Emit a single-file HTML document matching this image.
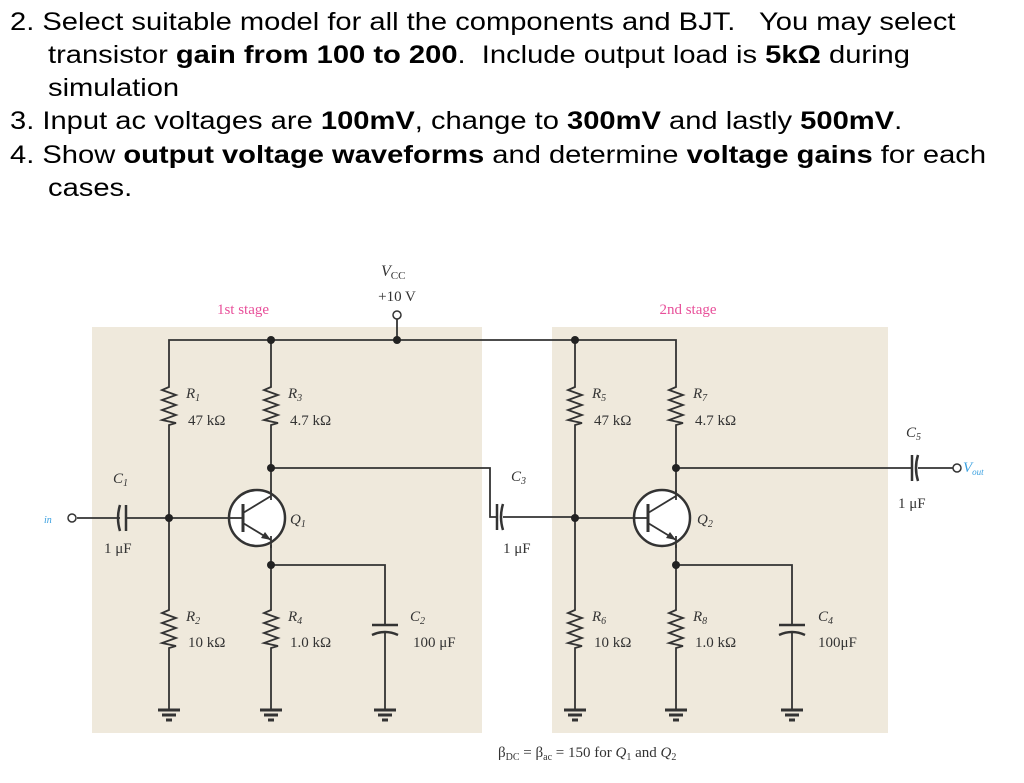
<!DOCTYPE html>
<html><head><meta charset="utf-8"><style>
html,body{margin:0;padding:0;background:#fff;width:1024px;height:783px;overflow:hidden}
.t{position:absolute;font-family:"Liberation Sans",Arial,sans-serif;font-size:25px;color:#000;white-space:nowrap;line-height:33px;transform:scaleX(1.165);transform-origin:0 0}
svg{position:absolute;left:0;top:0}
svg text{font-family:"Liberation Serif",serif;fill:#333}
</style></head><body>
<div class="t" style="left:10px;top:6px">2. Select suitable model for all the components and BJT.&nbsp;&nbsp; You may select</div>
<div class="t" style="left:48px;top:39px">transistor <b>gain from 100 to 200</b>.&nbsp; Include output load is <b>5kΩ</b> during</div>
<div class="t" style="left:48px;top:72px">simulation</div>
<div class="t" style="left:10px;top:105px">3. Input ac voltages are <b>100mV</b>, change to <b>300mV</b> and lastly <b>500mV</b>.</div>
<div class="t" style="left:10px;top:139px">4. Show <b>output voltage waveforms</b> and determine <b>voltage gains</b> for each</div>
<div class="t" style="left:48px;top:172px">cases.</div>
<svg width="1024" height="783" viewBox="0 0 1024 783">
<defs>
<g id="res"><polyline points="0,0 0,2 -7,5 7,10 -7,15 7,20 -7,25 7,30 -7,35 7,38 0,40 0,42" fill="none" stroke="#333" stroke-width="1.8"/></g>
<g id="gnd"><line x1="-11" y1="0" x2="11" y2="0" stroke="#333" stroke-width="3"/><line x1="-7" y1="5" x2="7" y2="5" stroke="#333" stroke-width="3"/><line x1="-3" y1="10" x2="3" y2="10" stroke="#333" stroke-width="3"/></g>
<g id="q"><circle cx="0" cy="0" r="28" fill="#fff" stroke="#333" stroke-width="2.5"/>
<line x1="-28" y1="0" x2="-14" y2="0" stroke="#333" stroke-width="1.8"/>
<line x1="-14" y1="-14" x2="-14" y2="14" stroke="#333" stroke-width="3"/>
<line x1="-14" y1="-5" x2="14" y2="-22" stroke="#333" stroke-width="1.8"/>
<line x1="-14" y1="5" x2="14" y2="22" stroke="#333" stroke-width="1.8"/>
<polygon points="14,22 4,20 8,14" fill="#333"/></g>
</defs>
<rect x="92" y="327" width="390" height="406" fill="#efe9dc"/>
<rect x="552" y="327" width="336" height="406" fill="#efe9dc"/>
<g stroke="#333" stroke-width="1.8" fill="none">
<polyline points="169,385 169,340 676,340 676,385"/>
<line x1="397" y1="319" x2="397" y2="340"/>
<line x1="271" y1="340" x2="271" y2="385"/>
<line x1="169" y1="427" x2="169" y2="608"/>
<line x1="169" y1="650" x2="169" y2="710"/>
<line x1="271" y1="427" x2="271" y2="495"/>
<line x1="271" y1="545" x2="271" y2="608"/>
<line x1="271" y1="650" x2="271" y2="710"/>
<polyline points="271,468 490,468 490,517 497,517"/>
<polyline points="503,517 575,517"/>
<polyline points="271,565 385,565 385,625"/>
<line x1="385" y1="632" x2="385" y2="710"/>
<line x1="77" y1="518" x2="120" y2="518"/>
<line x1="126" y1="518" x2="230" y2="518"/>
<line x1="575" y1="340" x2="575" y2="385"/>
<line x1="575" y1="427" x2="575" y2="608"/>
<line x1="575" y1="650" x2="575" y2="710"/>
<line x1="676" y1="427" x2="676" y2="495"/>
<line x1="676" y1="545" x2="676" y2="608"/>
<line x1="676" y1="650" x2="676" y2="710"/>
<polyline points="676,468 912,468"/>
<line x1="918" y1="468" x2="953" y2="468"/>
<polyline points="676,565 792,565 792,625"/>
<line x1="792" y1="632" x2="792" y2="710"/>
</g>
<use href="#res" x="169" y="385"/><use href="#res" x="271" y="385"/>
<use href="#res" x="169" y="608"/><use href="#res" x="271" y="608"/>
<use href="#res" x="575" y="385"/><use href="#res" x="676" y="385"/>
<use href="#res" x="575" y="608"/><use href="#res" x="676" y="608"/>
<use href="#gnd" x="169" y="710"/><use href="#gnd" x="271" y="710"/><use href="#gnd" x="385" y="710"/>
<use href="#gnd" x="575" y="710"/><use href="#gnd" x="676" y="710"/><use href="#gnd" x="792" y="710"/>
<use href="#q" x="257" y="518"/><use href="#q" x="662" y="518"/>
<g stroke="#333" stroke-width="1.8"><line x1="271" y1="490" x2="271" y2="500"/><line x1="271" y1="536" x2="271" y2="548"/>
<line x1="676" y1="490" x2="676" y2="500"/><line x1="676" y1="536" x2="676" y2="548"/>
<line x1="634" y1="518" x2="575" y2="518"/></g>
<g stroke="#333" stroke-width="2.5" fill="none">
<path d="M120,505 Q116,518 120,531"/><line x1="126" y1="505" x2="126" y2="531"/>
<line x1="497" y1="504" x2="497" y2="530"/><path d="M503,504 Q499,517 503,530"/>
<line x1="912" y1="455" x2="912" y2="481"/><path d="M918,455 Q914,468 918,481"/>
<line x1="372" y1="625" x2="398" y2="625"/><path d="M372,635 Q385,629 398,635"/>
<line x1="779" y1="625" x2="805" y2="625"/><path d="M779,635 Q792,629 805,635"/>
</g>
<g fill="#222"><circle cx="271" cy="340" r="4"/><circle cx="397" cy="340" r="4"/><circle cx="169" cy="518" r="4"/>
<circle cx="271" cy="468" r="4"/><circle cx="271" cy="565" r="4"/><circle cx="575" cy="340" r="4"/>
<circle cx="575" cy="518" r="4"/><circle cx="676" cy="468" r="4"/><circle cx="676" cy="565" r="4"/></g>
<g fill="#fff" stroke="#333" stroke-width="1.5"><circle cx="397" cy="315" r="4"/><circle cx="72" cy="518" r="4"/><circle cx="957" cy="468" r="4"/></g>
<text x="243" y="314" font-size="15" style="fill:#e8509a" text-anchor="middle">1st stage</text>
<text x="688" y="314" font-size="15" style="fill:#e8509a" text-anchor="middle">2nd stage</text>
<text x="381" y="276" font-size="16" font-style="italic">V<tspan font-size="11" font-style="normal" dy="3">CC</tspan></text>
<text x="397" y="301" font-size="15" text-anchor="middle">+10 V</text>
<g font-size="15">
<text x="186" y="398" font-style="italic">R<tspan font-size="10" dy="3">1</tspan></text><text x="188" y="425">47 kΩ</text>
<text x="288" y="398" font-style="italic">R<tspan font-size="10" dy="3">3</tspan></text><text x="290" y="425">4.7 kΩ</text>
<text x="186" y="621" font-style="italic">R<tspan font-size="10" dy="3">2</tspan></text><text x="188" y="647">10 kΩ</text>
<text x="288" y="621" font-style="italic">R<tspan font-size="10" dy="3">4</tspan></text><text x="290" y="647">1.0 kΩ</text>
<text x="410" y="621" font-style="italic">C<tspan font-size="10" dy="3">2</tspan></text><text x="413" y="647">100 μF</text>
<text x="592" y="398" font-style="italic">R<tspan font-size="10" dy="3">5</tspan></text><text x="594" y="425">47 kΩ</text>
<text x="693" y="398" font-style="italic">R<tspan font-size="10" dy="3">7</tspan></text><text x="695" y="425">4.7 kΩ</text>
<text x="592" y="621" font-style="italic">R<tspan font-size="10" dy="3">6</tspan></text><text x="594" y="647">10 kΩ</text>
<text x="693" y="621" font-style="italic">R<tspan font-size="10" dy="3">8</tspan></text><text x="695" y="647">1.0 kΩ</text>
<text x="818" y="621" font-style="italic">C<tspan font-size="10" dy="3">4</tspan></text><text x="818" y="647">100μF</text>
<text x="113" y="483" font-style="italic">C<tspan font-size="10" dy="3">1</tspan></text><text x="104" y="553">1 μF</text>
<text x="511" y="481" font-style="italic">C<tspan font-size="10" dy="3">3</tspan></text><text x="503" y="553">1 μF</text>
<text x="906" y="437" font-style="italic">C<tspan font-size="10" dy="3">5</tspan></text><text x="898" y="508">1 μF</text>
<text x="290" y="524" font-style="italic">Q<tspan font-size="10" dy="3">1</tspan></text>
<text x="697" y="524" font-style="italic">Q<tspan font-size="10" dy="3">2</tspan></text>
<text x="963" y="472" font-style="italic" style="fill:#3aa0e0">V<tspan font-size="9" dy="3">out</tspan></text>
<text x="44" y="523" font-size="10" font-style="italic" style="fill:#3aa0e0">in</text>
<text x="498" y="757">β<tspan font-size="10" dy="3">DC</tspan><tspan dy="-3"> = β</tspan><tspan font-size="10" dy="3">ac</tspan><tspan dy="-3"> = 150 for </tspan><tspan font-style="italic">Q</tspan><tspan font-size="10" dy="3">1</tspan><tspan dy="-3"> and </tspan><tspan font-style="italic">Q</tspan><tspan font-size="10" dy="3">2</tspan></text>
</g>
</svg>
</body></html>
